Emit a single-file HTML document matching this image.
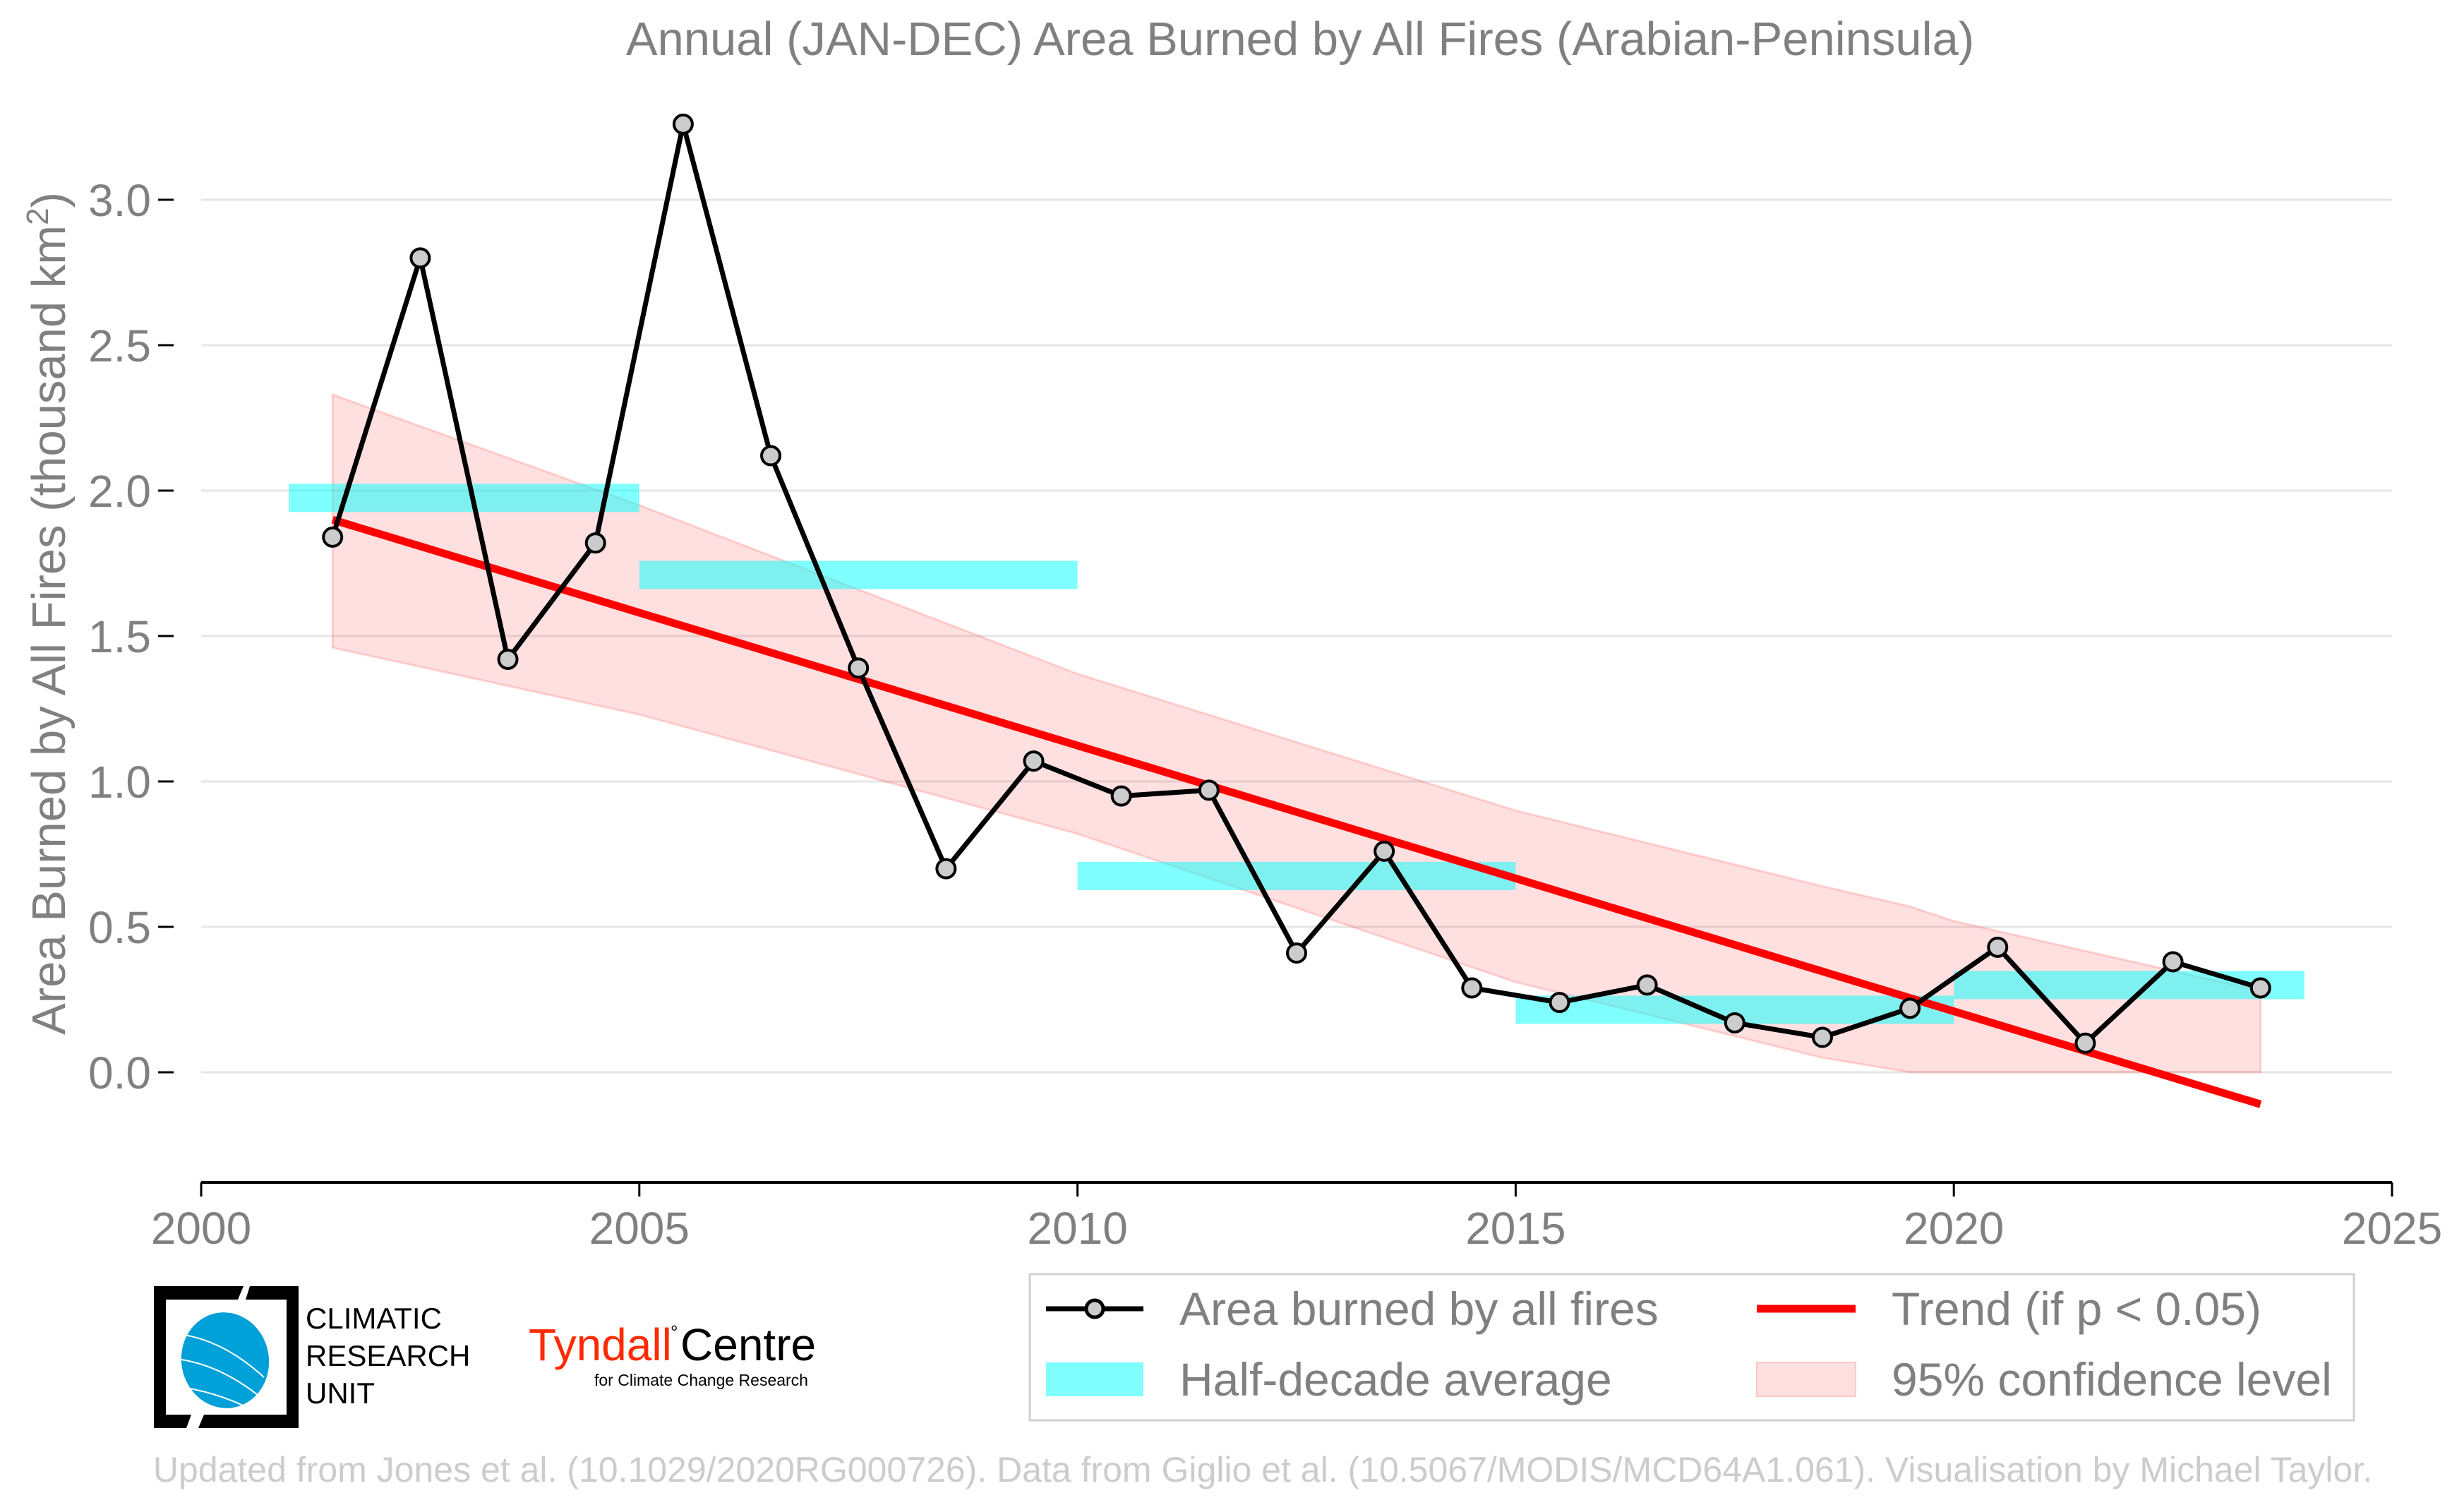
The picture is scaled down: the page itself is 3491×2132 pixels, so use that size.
<!DOCTYPE html>
<html><head><meta charset="utf-8"><style>
html,body{margin:0;padding:0;background:#fff}
svg{display:block;font-family:"Liberation Sans",sans-serif}
</style></head><body>
<svg id="chart" width="3491" height="2132" viewBox="0 0 3491 2132">
<text x="1842" y="78" text-anchor="middle" font-size="67" fill="#808080">Annual (JAN-DEC) Area Burned by All Fires (Arabian-Peninsula)</text>
<g id="grid"></g>
<g id="yaxis"></g>
<g id="xaxis"></g>
<text transform="translate(92,869) rotate(-90)" text-anchor="middle" font-size="67" fill="#808080">Area Burned by All Fires (thousand km<tspan baseline-shift="super" font-size="44">2</tspan>)</text>
<g id="marks"></g>

<g>
<rect x="1459" y="1805" width="1876" height="207" fill="#fff" stroke="#d0d0d0" stroke-width="3"/>
<g>
<line x1="1482" y1="1854" x2="1620" y2="1854" stroke="#000" stroke-width="7"/>
<circle cx="1551" cy="1854" r="12" fill="#ccc" stroke="#000" stroke-width="5"/>
<text x="1671" y="1877" font-size="66" fill="#808080">Area burned by all fires</text></g>
<g>
<rect x="1482" y="1930" width="138" height="48" fill="#80ffff"/>
<text x="1671" y="1977" font-size="66" fill="#808080">Half-decade average</text></g>
<g>
<line x1="2489" y1="1854" x2="2629" y2="1854" stroke="#f00" stroke-width="11"/>
<text x="2680" y="1877" font-size="66" fill="#808080">Trend (if p &lt; 0.05)</text></g>
<g>
<rect x="2489" y="1930" width="140" height="48" fill="#ffe0e0" stroke="#ffc8c8" stroke-width="2"/>
<text x="2680" y="1977" font-size="66" fill="#808080">95% confidence level</text></g>
</g>

<g>
<path d="M218,1822 H345 L337,1841 H235 V2004 H271 L264,2023 H218 Z" fill="#000"/>
<path d="M354,1822 H423 V2023 H281 L289,2004 H406 V1841 H348 Z" fill="#000"/>
<ellipse cx="319" cy="1927" rx="62" ry="68" fill="#00a0d8" transform="rotate(-10 319 1927)"/>
<path d="M261,1891 Q319,1901 374,1951 M257,1926 Q319,1936 377,1986 M264,1966 Q319,1976 364,2001" stroke="#fff" stroke-width="2" fill="none"/>
<text x="433" y="1882" font-size="42" fill="#000">CLIMATIC</text>
<text x="433" y="1935" font-size="42" fill="#000">RESEARCH</text>
<text x="433" y="1988" font-size="42" fill="#000">UNIT</text>
</g>
<g>
<text x="749" y="1927" font-size="64" fill="#ff2a00">Tyndall</text>
<text x="950" y="1896" font-size="26" fill="#000">°</text>
<text x="964" y="1927" font-size="64" fill="#000">Centre</text>
<text x="842" y="1963" font-size="23" fill="#000">for Climate Change Research</text>
</g>
<text x="1789" y="2099" text-anchor="middle" font-size="50" fill="#cccccc">Updated from Jones et al. (10.1029/2020RG000726). Data from Giglio et al. (10.5067/MODIS/MCD64A1.061). Visualisation by Michael Taylor.</text>
</svg>
<script>
const years = [2001.5,2002.5,2003.5,2004.5,2005.5,2006.5,2007.5,2008.5,2009.5,2010.5,2011.5,2012.5,2013.5,2014.5,2015.5,2016.5,2017.5,2018.5,2019.5,2020.5,2021.5,2022.5,2023.5];
const areaBurned = [1.84,2.80,1.42,1.82,3.26,2.12,1.39,0.70,1.07,0.95,0.97,0.41,0.76,0.29,0.24,0.30,0.17,0.12,0.22,0.43,0.10,0.38,0.29];
const halfStart = [2001,2005,2010,2015,2020];
const halfEnd = [2005,2010,2015,2020,2024];
const halfAvg = [1.975,1.71,0.675,0.215,0.30];
const trendYears = [2001.5,2023.5];
const trendVals = [1.90,-0.11];
const ciYears = [2001.5,2005,2010,2015,2018.5,2019.5,2020,2023.5];
const ciUpper = [2.33,1.95,1.37,0.90,0.64,0.57,0.52,0.28];
const ciLower = [1.46,1.23,0.82,0.31,0.05,0.0,0.0,0.0];
const yTicks = [0,0.5,1.0,1.5,2.0,2.5,3.0];
const yTickLabels = ["0.0","0.5","1.0","1.5","2.0","2.5","3.0"];
const xTicks = [2000,2005,2010,2015,2020,2025];

const X0=285,X1=3389,Y0=1519,PerY=412;
const sx = v => X0 + (v-2000)/25*(X1-X0);
const sy = v => Y0 - v*PerY;
const NS="http://www.w3.org/2000/svg";
function mk(parent,tag,attrs){const e=document.createElementNS(NS,tag);for(const k in attrs)e.setAttribute(k,attrs[k]);parent.appendChild(e);return e;}
const grid=document.getElementById('grid'),ya=document.getElementById('yaxis'),xa=document.getElementById('xaxis'),marks=document.getElementById('marks');

yTicks.forEach((t,i)=>{
  const g=mk(grid,'line',{x1:X0,x2:X1,y1:sy(t),y2:sy(t),stroke:'#e6e6e6','stroke-width':3});
  
  
  const tk=mk(ya,'line',{x1:224,x2:246,y1:sy(t),y2:sy(t),stroke:'#000','stroke-width':3});
  
  
  const tx=mk(ya,'text',{x:214,y:sy(t)+23,'text-anchor':'end','font-size':64,fill:'#808080'});
  tx.textContent=yTickLabels[i];
  
  
});
const ax=mk(xa,'line',{x1:X0,x2:X1,y1:1675,y2:1675,stroke:'#000','stroke-width':4});


xTicks.forEach(t=>{
  const tk=mk(xa,'line',{x1:sx(t),x2:sx(t),y1:1675,y2:1695,stroke:'#000','stroke-width':3});
  
  
  const tx=mk(xa,'text',{x:sx(t),y:1762,'text-anchor':'middle','font-size':64,fill:'#808080'});
  tx.textContent=t;
  
  
});
let pts=ciYears.map((y,i)=>sx(y)+','+sy(ciUpper[i]));
for(let i=ciYears.length-1;i>=0;i--)pts.push(sx(ciYears[i])+','+sy(ciLower[i]));
const band=mk(marks,'polygon',{points:pts.join(' '),fill:'rgba(255,0,0,0.12)',stroke:'rgba(255,0,0,0.15)','stroke-width':3});


halfAvg.forEach((v,i)=>{
  const r=mk(marks,'rect',{x:sx(halfStart[i]),width:sx(halfEnd[i])-sx(halfStart[i]),y:sy(v)-20,height:40,fill:'rgba(0,255,255,0.5)'});
  
  
});
const tr=mk(marks,'line',{x1:sx(trendYears[0]),y1:sy(trendVals[0]),x2:sx(trendYears[1]),y2:sy(trendVals[1]),stroke:'#f00','stroke-width':11});


const pl=mk(marks,'polyline',{points:years.map((y,i)=>sx(y)+','+sy(areaBurned[i])).join(' '),fill:'none',stroke:'#000','stroke-width':7,'stroke-linejoin':'round'});


years.forEach((y,i)=>{
  const c=mk(marks,'circle',{cx:sx(y),cy:sy(areaBurned[i]),r:13,fill:'#ccc',stroke:'#000','stroke-width':4});
  
  
});
</script>
</body></html>
